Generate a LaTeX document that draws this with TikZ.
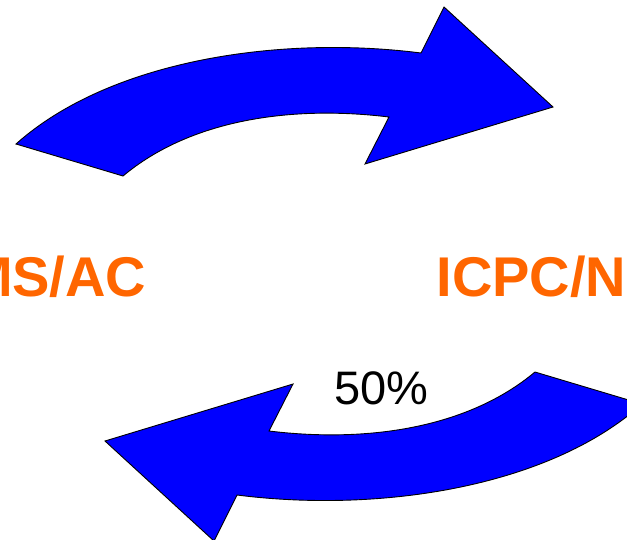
\documentclass[tikz,border=0pt]{standalone}
\usepackage{fontspec}
\setmainfont{Liberation Sans}
\definecolor{arrowblue}{RGB}{0,0,255}
\definecolor{labelorange}{RGB}{255,102,0}
\begin{document}
\begin{tikzpicture}[x=1pt,y=-1pt,
  bigarrow/.style={fill=arrowblue,draw=black,line width=0.9pt,line join=miter},
  sidelabel/.style={inner sep=0pt,outer sep=0pt,text=labelorange,font=\fontsize{56}{56}\selectfont\bfseries},
  pctlabel/.style={inner sep=0pt,outer sep=0pt,text=black,font=\fontsize{47}{47}\selectfont}]
\useasboundingbox (0,0) rectangle (627,539);
\clip (0,0) rectangle (627,539);
\tikzset{arrowpath/.pic={
  \path[bigarrow] (16,144) -- (123,176)
    .. controls (190,120) and (290,105) .. (389,117)
    -- (365,164) -- (553,107) -- (444,7) -- (421,53)
    .. controls (280,35) and (110,60) .. (16,144) -- cycle;
}}
\pic at (0,0) {arrowpath};
\pic[rotate around={180:(329,274)}] at (0,0) {arrowpath};
\node[sidelabel,anchor=base west] (left) at (-34,296) {MS/AC};
\node[sidelabel,anchor=base west] (right) at (436.5,296) {ICPC/N};
\node[pctlabel,anchor=base] (pct) at (381.5,404) {50\%};
\end{tikzpicture}
\end{document}
